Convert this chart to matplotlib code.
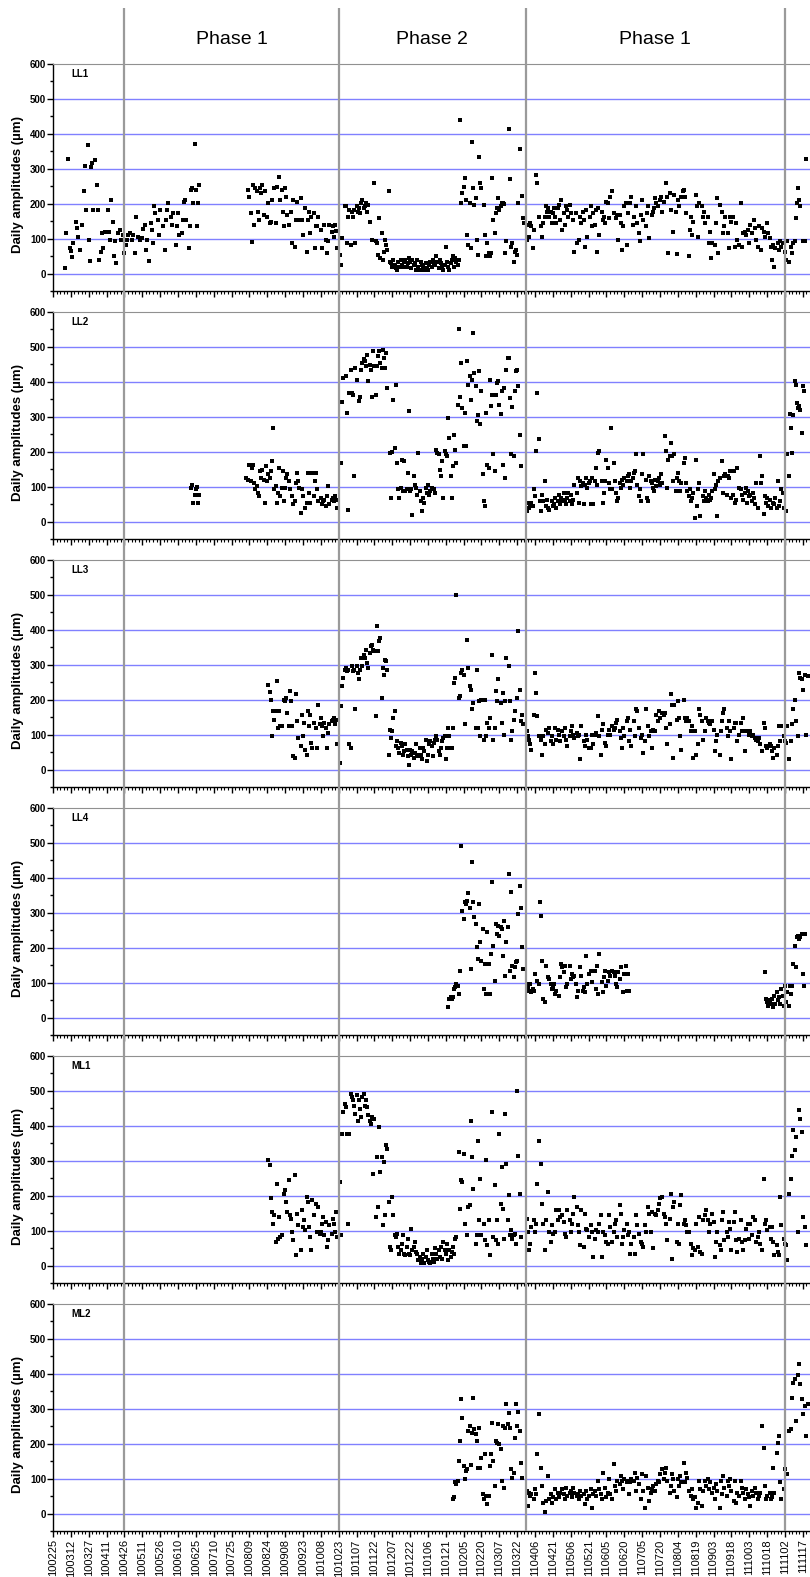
import numpy as np
import matplotlib.pyplot as plt
from matplotlib.ticker import MultipleLocator
from datetime import date

plt.rcParams['font.family'] = ['Liberation Sans', 'DejaVu Sans']

na = None
t0 = date(2010, 2, 25)   # day 0 of the x axis

# x tick labels, one every 15 days (yymmdd)
tick_labels = ['100225', '100312', '100327', '100411', '100426', '100511', '100526',
               '100610', '100625', '100710', '100725', '100809', '100824', '100908',
               '100923', '101008', '101023', '101107', '101122', '101207', '101222',
               '110106', '110121', '110205', '110220', '110307', '110322', '110406',
               '110421', '110506', '110521', '110605', '110620', '110705', '110720',
               '110804', '110819', '110903', '110918', '111003', '111018', '111102',
               '111117']

# phase changes (yymmdd)
phase_dates = ['100426', '101023', '110329', '111102']
phase_names = ['Phase 1', 'Phase 2', 'Phase 1']

panel_names = ['LL1', 'LL2', 'LL3', 'LL4', 'ML1', 'ML2']

# daily amplitudes (um), segments of (first day after 100225, consecutive daily values)
ll1 = [
    (10, [15, 115, na, 328, 72, 65, 47, 87, na, 149, 130, 105, na, 68, 139, na, 235, 308, 182, 368,
          96, 36, 306, 316, 182, 325, na, 254, 182, 39, 63, 115, 72, na, 120, na, 182, 120, 96, 211,
          149, 49, 92, 30, na, 115, 125, 96, na, 110, 60, 82, 96, 110, na, 115, 96, 110, na, 58,
          163, 106, na, 96, na, 101, 127, 139, 68, 96, na, 36, 144, 125, 87, 192, 173, na, 154, 110,
          182, na, 135, na, 68, 154, 182, 203, na, 163, 139, 173, na, 82, 135, 173, 110, na, 115, 154,
          206, 211, 154, na, 72, 135, 239, 244, 201, 370, 239, 136, 203, 254]),
    (164, [239, 220, 173, 89, 254, 139, 244, 235, 177, 154, 244, 230, 254, 168, 237, na, 163, 201, 144, 149,
           211, na, 244, 144, 249, na, 276, 211, 239, 177, 135, 244, 220, 168, 139, na, 177, 87, 211, 77,
           154, 206, 154, na, 216, 154, 110, na, 187, 63, 154, 177, 115, 163, na, 173, 72, 135, 135, 163,
           na, 125, 72, na, 139, 96, 58, 92, 139, na, 120, 135, 106, 139, 123, 72]),
    (241, [53, 25, 101, na, 192, 194, 87, 163, 182, 82, 175, 163, 182, 87, 192, 177, 187, 173, 201, 211,
           187, 192, 201, 175, 197, 149, na, 96, na, 259, 92, 87, 53, 158, 44, 115, 39, 63, 96, 82,
           68, 235, 34, 30, 20, 39, 25, 15, 10, 34, 20, 39, 25, 20, 34, 39, 20, 30, 44, 34,
           15, 39, 25, 30, 10, 39, 20, 10, 34, 25, 20, 10, 30, 15, 10, 25, 34, 20, 39, 30,
           25, 49, 34, 15, 39, 30, 20, 10, 25, 75, 34, 20, 10, 30, 39, 49, 20, 44, 34, 25,
           39, 440, 201, 230, 249, 273, 211, 110, 82, 201, 72, 378, 244, 197, 216, 96, 53, 335, 259, 244,
           na, 197, 110, 49, 87, 58, 49, 58, 273, 154, 115, 173, 187, 216, 182, 192, 201, 201, 199, 58, 92,
           na, 413, 270, 77, 87, 34, 63, 68, 53, 201, 356, na, 222, 158, 144]),
    (398, [96, 139, 106, 144, 135, 72, 125, na, 282, 259, 163, na, 135, 106, 144, 163, 192, 177, 187, 163,
           177, 144, 173, 187, 163, 144, 187, 197, 154, 211, 125, 173, 139, 192, 182, 163, 197, 173, na, 154,
           63, 173, 87, na, 96, 163, 144, 177, 154, 77, 182, 106, na, 163, 192, 135, 173, 139, 182, 63,
           187, 110, na, 177, 154, 163, 144, 206, 201, 158, 220, na, 235, 173, na, 158, 168, 96, 168, 144,
           68, 135, 192, 201, 82, 173, na, 201, 220, 139, 163, na, 192, 144, 115, 92, 168, 211, 154, na,
           135, 173, 192, 101, na, 168, 177, 187, 216, 201, 192, na, 211, 220, 177, 206, na, 259, 220, 58,
           230, 182, na, 120, 225, 177, 55, 211, 192, na, 220, 235, 239, 220, 173, na, 49, 125, 163, 110,
           149, na, 225, 192, 106, 201, na, 192, 163, 177, 144, na, 163, 87, 120, 44, 87, na, 82, 144,
           216, 58, 197, na, 177, 115, 135, 163, na, 115, 72, 163, 149, 163, na, 77, 144, 96, 82, na,
           201, 77, 115, 120, 110, na, 125, 87, 139, 115, na, 154, 130, 96, 77, 135, na, 68, 130, 120,
           106, na, 144, 115, 101, 77, 39, 82, 18, 72, na, 87, 68, 92, 77, 87, na, 63, 39, 92,
           34, na, 77, 58, 87, 92, 158, 201, 244, 211, 192, na, 92, na, 92, 327]),
]

ll2 = [
    (116, [96, 106, 53, 77, 92, 100, 53, 77]),
    (162, [125, na, 120, 163, 115, 154, 163, 110, 92, 101, 82, 72, 144, 125, 149, 120, 53, 158, 115, 135,
           125, 144, 173, 268, 92, 101, 53, 82, 154, 72, 96, 144, 58, 96, 125, 135, 115, 92, na, 72,
           49, 58, 110, 139, 115, 96, 25, 92, 72, na, 39, 53, 139, 82, 53, na, 139, 72, 115, 139,
           92, 58, na, 68, 49, 58, 63, 44, 72, 101, 49, na, 63, 68, 58, 72, 63, 39]),
    (242, [168, 342, 411, na, 416, 311, 34, 368, 435, 368, 363, 130, 440, 406, na, 344, 358, 435, 454, 464,
           459, 444, 478, 402, 449, 435, 358, 487, 444, 363, 444, 473, 487, 454, 440, 492, 468, 440, 483, 383,
           na, 197, 68, 199, 349, 211, 392, 168, 92, 68, 96, 177, 87, 173, 87, 92, 139, 316, 87, 92,
           20, 130, 106, 96, 77, 197, 87, 58, 30, 68, 53, 96, 82, 106, 77, 87, 96, 92, 92, 82,
           206, 197, 192, 149, 130, 173, 68, 201, 192, 187, 297, 239, 130, 68, 158, 249, 206, 168, 335, 552,
           358, 454, 325, 216, 311, 216, 459, 392, 416, 349, 406, 540, 425, 387, 287, 306, 430, 278, 373, 135,
           58, 44, 311, 163, 154, 406, 330, 363, 192, 144, 363, 397, 402, 335, 308, 373, 163, 383, 125, 435,
           468, 468, 354, 192, 327, 187, 373, 430, 435, 387, 249, 158]),
    (398, [30, 53, 39, 49, 53, 44, 92, 72, 201, 368, 235, 58, 30, 77, 58, 115, 44, 63, 39, 34, na,
           58, 44, 49, 68, 39, 58, 77, 49, 68, 58, 82, 63, 49, 68, 82, 58, 77, 49, 63, 106, na,
           82, 125, 53, 115, 101, 110, 49, 106, 125, 96, 110, 115, 49, 125, 49, 115, 154, 106, 197, 201, na,
           115, 53, 82, 115, 177, 154, 110, 92, 268, 92, 168, 115, 82, 58, 68, 110, 96, 120, 106, 125, na,
           115, 130, 135, 96, 115, 125, 139, 144, 192, 106, 72, 92, 58, 135, 192, na,
           120, 68, 58, 130, 115, 110, 96, 87, 120, 101, 115, 125, 106, 135, 110, na,
           244, 201, 96, 177, 187, 225, 187, 115, 192, 87, 125, 139, 115, 87, 110, na,
           168, 182, 110, 87, 72, 92, 58, 68, 82, 10, 177, 44, 92, 110, 15, na,
           72, 58, 87, 68, 58, 77, 63, 68, 87, 135, 92, 106, 15, 115, 125, na,
           173, 82, 130, 135, 77, 130, 125, 144, 68, 77, 144, 53, 63, 154, 96, na,
           92, 77, 63, 82, 96, 53, 87, 72, 77, 58, 82, 68, 49, 110, 39, na,
           187, 110, 130, 22, 72, 53, 68, 44, 63, 39, na, 53, 49, 68, 39, 115, 44, 58, 92, 82, 39, na,
           30, 192, 130, 308, 268, 197, 306, 402, 392, 339, 325, 330, 320, 254, 387, 373]),
]

ll3 = [
    (181, [243, 222, 200, 95, 167, 143, 167, 253, 119, 167, 124, 124, na,
           200, 196, 205, 162, 124, 224, 196, 124, 38, 33, 215, 138, 91, na,
           67, 157, 95, 134, 57, 43, 167, 124, 157, 76, 62, 134, na,
           119, 62, 186, 129, 148, 124, 95, 134, 119, 62, 105, 129, na,
           138, 143, 148, 129, 143, 72]),
    (241, [19, 181, 238, 262, 286, 291, 281, 286, 72, 62, 296, 281, 286, 172, 296, 277, 258, 286, 320, 296,
           329, 320, 343, 305, 291, 334, 353, 358, 343, 338, 153, 410, 338, 367, 377, 205, 291, 272, 315, 310,
           286, 43, 114, 91, 110, 148, 167, 67, 81, 62, 48, 76, 67, 43, 52, 72, 57, 38, 14, 57,
           43, 52, 33, 48, 72, 43, 38, 62, 43, 29, 62, 52, 86, 24, 43, 72, 81, 67, 38, 76,
           86, 95, 86, 52, 43, 62, 81, 91, 95, 29, 62, 119, 95, 62, 62, 119, 248, 262, 501, na,
           205, 210, 277, 286, 272, 129, na, 372, 291, 238, 229, 172, 191, na,
           119, 286, 119, 196, 95, 200, na, 86, 200, 95, 134, 119, 148, na,
           329, 86, 119, 224, 196, 258, na, 191, 134, 219, 100, 196, 320, na,
           296, 196, 86, 110, 143, 167, na, 205, 396, 229, 138, 157, 129]),
    (398, [110, 95, 86, 72, 57, na, 157, 277, 219, 153, 95, na, 86, 43, 95, 72, 114, na,
           105, 119, 81, 95, 72, na, 119, 86, 114, 100, 81, na, 110, 95, 119, 86, 67, na,
           95, 110, 124, 100, 91, na, 105, 95, 100, 29, 124, na, 81, 67, 100, 86, 62, na,
           62, 100, 72, 100, 105, na, 153, 95, 43, 114, 129, na, 76, 67, 100, 114, 100, na,
           124, 114, 119, 134, 143, na, 110, 91, 62, 119, 95, na, 138, 148, 81, 114, 67, na,
           138, 95, 172, 167, 119, na, 91, 100, 48, 81, 172, na, 124, 95, 110, 62, 114, na,
           110, 157, 138, 167, 148, na, 162, 157, 162, 119, 72, na, 129, 215, 186, 33, 186, na,
           143, 196, 148, 95, 57, na, 200, 148, 138, 148, 138, na, 110, 124, 33, 110, 43, na,
           72, 172, 157, 138, 86, na, 110, 148, 138, 134, 129, na, 138, 114, 52, 81, 100, na,
           43, 110, 138, 162, 172, na, 119, 95, 138, 110, 29, na, 119, 134, 134, 81, 100, na,
           134, 110, 148, 52, 110, na, 110, 100, 110, 95, 100, na, 91, 86, 81, 91, 72, na,
           52, 134, 119, 67, 62, na, 72, 67, 52, 33, 62, na, 43, 67, 124, 81, 124, na,
           95, 81, 76, 124, 29, na, 81, 129, 172, 200, 138, na, 95, 277, 262, 258, 229, na,
           272, 100, 267]),
]

ll4 = [
    (332, [30, 53, 58, 53, 58, 82, 87, 96, 91, 68, 134, 492, 306, 282, 330, 325, 335, 358, 315, 139,
           444, 330, 287, 268, 201, 168, 325, 215, 163, 253, 82, 153, 68, 244, 153, 68, 182, 387, 206, 106,
           268, 239, 263, 234, 258, 253, 177, 277, 120, 215, 258, 411, 134, 360, 149, 115, 144, 158, 163, 296,
           377, 315, 201, 139]),
    (398, [96, 87, 77, 96, 72, 82, 77, 125, na, 106, 96, 330, 292, 163, 53, 44, 149, na,
           115, 111, 96, 82, 87, 96, 68, 77, na, 63, 115, 153, 144, 130, 149, 87, 96, na,
           149, 111, 125, 115, 120, 96, 58, 77, na, 144, 120, 77, 87, 72, 177, 96, 125, na,
           134, 101, 134, 134, 82, 149, 68, 182, na, 101, 72, 115, 134, 91, 106, 130, 120, na,
           134, 130, 120, 96, 87, 130, 111, 144, na, 72, 125, 149, 77, 125, 77]),
    (598, [130, 53, 44, 34, 49, 39, 53, 30, 63, 39, 72, 49, 58, 39, 82, 63, 34, 91, 44, 72,
           34, 91, 68, 91, 153, 206, 144, 230, 234, 225, 230, 239, 125, 91, 239]),
]

ml1 = [
    (181, [301, 287, 192, 153, 120, 144, 68, 234, 77, 139, 82, 87, na,
           206, 215, 182, 153, 244, 144, 134, 96, 72, 258, 30, 149, 115, na,
           44, 158, 111, 130, 101, 196, 182, 111, 82, 44, 187, 144, na,
           177, 96, 168, 91, 96, 120, 139, 87, 125, 53, 72, 115, na,
           91, 134, 120, 96, 153, 82]),
    (241, [239, 87, 377, 439, 463, 454, 377, 120, 377, 492, 482, 473, 458, 434, 487, 415, 473, 449, 425, 482,
           492, 458, 473, 454, 430, 415, 406, 425, 263, 420, 139, 311, 168, 396, 268, 311, 115, 296, 144, 344,
           334, 182, 53, 44, 196, 144, 87, 82, 91, 53, 34, 44, 63, 87, 34, 30, 53, 77, 34, 30,
           106, 44, 53, 68, 39, 34, 15, 25, 6, 20, 34, 6, 25, 44, 15, 10, 6, 34, 20, 10,
           49, 34, 20, 44, 25, 53, 20, 68, 44, 34, 63, 15, 44, 25, 39, 53, 34, 77, 82, na,
           325, 163, 244, 239, 320, 120, na, 87, 168, 172, 415, 311, 220, na,
           63, 87, 358, 130, 249, 87, na, 120, 72, 301, 58, 130, 30, na,
           439, 82, 230, 72, 130, 63, 377, 177, 282, 163, 77, 434,
           292, 130, 201, 87, 101, 77, 87, 91, 63, 501, 315, 206, 82]),
    (398, [134, 96, 44, 63, 111, na, 130, 96, 120, 234, 358, na, 292, 177, 120, 44, 130, na,
           211, 96, 68, 115, 91, na, 96, 158, 130, 158, 139, na, 144, 125, 91, 82, 158, na,
           130, 96, 120, 149, 196, na, 168, 115, 96, 58, 158, na, 53, 149, 106, 101, 82, na,
           115, 96, 25, 77, 101, na, 96, 120, 144, 25, 96, na, 87, 68, 63, 144, 111, na,
           68, 96, 120, 130, 82, na, 172, 149, 63, 82, 101, na, 120, 87, 96, 34, 63, na,
           82, 34, 144, 115, 91, na, 68, 63, 53, 115, 96, na, 168, 149, 96, 153, 49, na,
           149, 144, 158, 177, 192, na, 196, 149, 139, 120, 72, na, 134, 206, 20, 168, 182, na,
           68, 120, 63, 172, 201, na, 120, 130, 115, 96, 96, na, 63, 30, 49, 44, 120, na,
           53, 139, 39, 34, 130, na, 144, 158, 130, 96, 120, na, 149, 125, 25, 68, 96, na,
           58, 44, 130, 153, 72, na, 96, 82, 125, 106, 44, na, 125, 153, 72, 39, 77, na,
           130, 68, 44, 72, 106, na, 120, 77, 120, 87, 139, na, 130, 68, 82, 96, 63, na,
           44, 249, 120, 130, 101, na, 111, 77, 111, 68, 30, na, 58, 39, 30, 196, 115, na,
           77, 63, 58, 15, 206, na, 249, 315, 387, 330, 368, na, 96, 444, 420, 382, 139, na,
           111, 58]),
]

ml2 = [
    (336, [41, 46, 89, 84, 93, 151, 208, 327, 274, 136, 98, 122, 127, 236, 251, 138, 232, 332, 241, 227,
           208, 131, 246, 131, 160, 55, 41, 170, 50, 27, 50, 136, 170, 260, 151, 79, 208, 203, 256, 198,
           184, 93, 251, 74, 246, 313, 256, 289, 246, 127, 103, 117, 217, 313, 251, 291, 236, 144, 103]),
    (398, [65, 22, 60, 50, 55, na, 41, 70, 55, 170, 284, na, 131, 79, 31, 3, 36, na,
           108, 41, 55, 31, 46, na, 70, 41, 60, 46, 60, na, 70, 55, 41, 74, 50, na,
           60, 65, 46, 74, 60, na, 50, 55, 41, 65, 50, na, 55, 27, 65, 41, 50, na,
           70, 17, 55, 65, 50, na, 93, 70, 55, 41, 117, na, 74, 46, 60, 98, 55, na,
           41, 141, 79, 65, 93, na, 84, 108, 93, 70, 98, na, 89, 93, 55, 89, 98, na,
           93, 117, 65, 103, 84, na, 41, 112, 65, 17, 108, na, 74, 36, 60, 70, 79, na,
           65, 84, 93, 89, 112, na, 127, 98, 117, 131, 93, na, 60, 79, 112, 98, 65, na,
           46, 98, 79, 108, 89, na, 146, 89, 117, 103, 65, na, 50, 70, 41, 46, 17, na,
           31, 93, 70, 22, 65, na, 93, 79, 98, 70, 89, na, 60, 74, 41, 84, 65, na,
           17, 93, 55, 108, 74, na, 50, 93, 79, 98, 65, na, 36, 93, 31, 60, 50, na,
           93, 74, 60, 41, 70, na, 55, 46, 22, 65, 50, na, 74, 60, 41, 50, 60, na,
           251, 189, 79, 41, 50, na, 60, 41, 46, 131, 60, na, 174, 203, 222, 89, 41, na,
           70, 127, 112, 112, 236, na, 241, 332, 375, 384, 265, na, 398, 427, 370, 327, 284, na,
           308, 222, 313]),
]

panels = [ll1, ll2, ll3, ll4, ml1, ml2]


def day_of(s):
    d = date(2000 + int(s[:2]), int(s[2:4]), int(s[4:]))
    return (d - t0).days


W, H = 810, 1577
x_max = 636
fig = plt.figure(figsize=(W / 100, H / 100), dpi=100)

left = 53 / W
width = 1 - left
ax_h = 227
step = 248
top0 = 64

tick_pos = np.arange(len(tick_labels)) * 15

for i, (name, segs) in enumerate(zip(panel_names, panels)):
    top = top0 + step * i
    ax = fig.add_axes([left, 1 - (top + ax_h) / H, width, ax_h / H])
    ax.set_xlim(0, x_max)
    ax.set_ylim(-50, 600)

    for v in range(0, 600, 100):
        ax.axhline(v, color='#8080ff', lw=1.0, zorder=1)

    for start, vals in segs:
        vals = np.array(vals, dtype=float)
        days = start + np.arange(len(vals))
        ax.plot(days, vals, 's', color='black', ms=3.2, mew=0, zorder=3)

    ax.text(18 / (W * width), 1 - 10 / ax_h, name, transform=ax.transAxes,
            fontsize=7, fontweight='bold', va='center', ha='left')

    ax.spines['right'].set_visible(False)
    ax.spines['top'].set_color('#909090')
    ax.spines['left'].set_linewidth(1.0)
    ax.spines['bottom'].set_linewidth(1.0)

    ax.set_yticks(range(0, 601, 100))
    ax.yaxis.set_minor_locator(MultipleLocator(50))
    ax.tick_params(axis='y', which='major', direction='out', length=4, width=1,
                   labelsize=7, pad=1)
    ax.tick_params(axis='y', which='minor', direction='out', length=2, width=1)
    for lab in ax.get_yticklabels():
        lab.set_fontweight('bold')

    ax.set_xticks(tick_pos)
    ax.xaxis.set_minor_locator(MultipleLocator(3))
    ax.tick_params(axis='x', which='major', direction='out', length=4, width=1)
    ax.tick_params(axis='x', which='minor', direction='out', length=2, width=0.8)
    if i == len(panel_names) - 1:
        ax.set_xticklabels(tick_labels, rotation=90, fontsize=8)
        ax.tick_params(axis='x', which='major', pad=2)
    else:
        ax.tick_params(axis='x', labelbottom=False)

    ax.set_ylabel('Daily amplitudes (µm)', fontsize=9.5, fontweight='bold')
    ax.yaxis.set_label_coords(-29 / (W * width), 0.47)

# phase boundaries run through all panels
bottom_px = top0 + step * (len(panel_names) - 1) + ax_h
ov = fig.add_axes([left, 1 - bottom_px / H, width, (bottom_px - 8) / H])
ov.set_xlim(0, x_max)
ov.set_ylim(0, 1)
ov.axis('off')
pd_days = [day_of(s) for s in phase_dates]
for d in pd_days:
    ov.axvline(d, color='#9a9a9a', lw=1.6)
y_txt = (bottom_px - 40) / (bottom_px - 8)
for k, nm in enumerate(phase_names):
    ov.text((pd_days[k] + pd_days[k + 1]) / 2, y_txt, nm, fontsize=14,
            ha='center', va='center')

fig.savefig('out.png', dpi=100)
